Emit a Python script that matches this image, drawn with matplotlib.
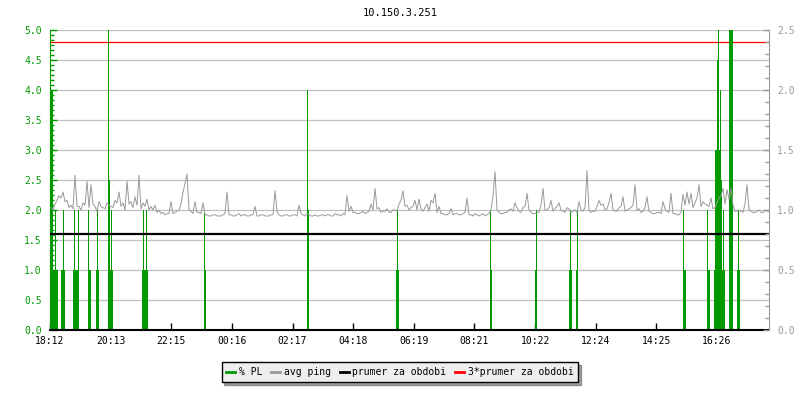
import numpy as np
import matplotlib
matplotlib.use("Agg")
import matplotlib.pyplot as plt
from matplotlib.ticker import MultipleLocator, AutoMinorLocator
from matplotlib.lines import Line2D

# time axis: minutes since 18:12
tick_labels = ["18:12", "20:13", "22:15", "00:16", "02:17", "04:18",
               "06:19", "08:21", "10:22", "12:24", "14:25", "16:26"]
tick_step = 121.27
span = 1438

# avg ping, read every 8 minutes (peaks) ...
ping_step = 8
avg_ping = [
    1.02, 1.05, 1.12, 1.15, 1.08, 1.04, 1.29, 1.03, 1.06, 1.24,
    1.21, 1.03, 1.07, 1.02, 1.06, 1.03, 1.08, 1.15, 1.06, 1.24,
    1.07, 1.11, 1.29, 1.06, 1.09, 1.03, 1.04, 1.00, 0.98, 0.97,
    1.07, 0.98, 1.00, 1.15, 1.30, 0.99, 1.07, 0.98, 1.06, 0.96,
    0.95, 0.96, 0.95, 0.96, 1.15, 0.96, 0.95, 0.97, 0.96, 0.95,
    0.96, 1.03, 0.95, 0.96, 0.95, 0.96, 1.16, 0.96, 0.95, 0.96,
    0.95, 0.96, 1.04, 0.96, 0.97, 0.95, 0.96, 0.95, 0.96, 0.96,
    0.95, 0.97, 0.96, 0.97, 1.12, 1.03, 0.98, 0.97, 0.99, 0.98,
    1.05, 1.18, 1.02, 0.99, 1.01, 0.98, 1.00, 1.05, 1.16, 1.04,
    1.02, 1.08, 1.09, 0.99, 1.05, 1.08, 1.14, 1.03, 0.97, 0.96,
    1.01, 0.97, 0.96, 0.97, 1.10, 0.96, 0.97, 0.95, 0.97, 0.96,
    1.00, 1.32, 0.98, 0.97, 0.98, 1.01, 1.06, 0.99, 1.02, 1.14,
    0.98, 0.97, 0.98, 1.18, 1.00, 1.08, 1.01, 1.06, 0.99, 1.02,
    0.98, 1.00, 1.07, 0.99, 1.33, 0.98, 0.99, 1.08, 1.05, 1.01,
    1.14, 0.99, 1.02, 1.11, 1.00, 1.02, 1.21, 1.01, 0.99, 1.11,
    0.98, 0.97, 0.98, 1.07, 0.99, 1.14, 0.97, 0.96, 1.13, 1.15,
    1.14, 1.06, 1.21, 1.07, 1.04, 1.10, 1.02, 1.10, 1.18, 1.17,
    1.18, 0.99, 1.00, 0.98, 1.21, 0.99, 0.98, 1.00, 0.98, 0.99,
]
# ... and the samples in between (4 minutes later)
avg_ping_mid = [
    1.00, 1.08, 1.10, 1.07, 1.02, 1.01, 1.03, 1.00, 1.04, 1.02,
    1.05, 0.99, 1.03, 1.01, 1.04, 1.02, 1.06, 1.03, 1.00, 1.05,
    1.02, 1.04, 1.01, 1.03, 1.00, 1.00, 0.98, 0.97, 0.96, 0.97,
    0.97, 0.99, 1.05, 1.22, 1.00, 0.97, 0.98, 0.97, 0.96, 0.95,
    0.96, 0.95, 0.95, 0.97, 0.96, 0.95, 0.96, 0.95, 0.96, 0.95,
    0.96, 0.95, 0.96, 0.95, 0.95, 0.96, 0.99, 0.95, 0.96, 0.95,
    0.96, 0.95, 0.97, 0.95, 0.96, 0.95, 0.95, 0.96, 0.95, 0.96,
    0.95, 0.96, 0.95, 0.96, 0.99, 0.98, 0.97, 0.98, 0.97, 0.99,
    1.00, 1.01, 0.98, 0.99, 0.98, 1.00, 0.99, 1.08, 1.03, 1.00,
    1.03, 1.00, 1.01, 1.02, 0.99, 1.06, 0.98, 0.97, 0.96, 0.97,
    0.96, 0.97, 0.96, 0.98, 0.96, 0.95, 0.96, 0.96, 0.95, 0.97,
    1.12, 1.00, 0.97, 0.98, 1.00, 0.99, 1.02, 0.98, 1.03, 1.00,
    0.97, 0.98, 1.04, 1.00, 1.02, 0.99, 1.03, 1.00, 0.98, 1.01,
    0.99, 0.98, 1.00, 1.02, 1.00, 0.99, 1.03, 1.04, 1.00, 1.06,
    1.00, 0.99, 1.03, 0.99, 1.01, 1.04, 1.00, 0.98, 1.02, 0.99,
    0.97, 0.98, 0.97, 1.01, 0.98, 0.97, 0.96, 0.98, 1.04, 1.05,
    1.02, 1.10, 1.03, 1.05, 1.03, 1.01, 1.06, 1.12, 1.05, 1.09,
    1.04, 0.99, 0.99, 1.05, 1.00, 0.98, 0.99, 0.98, 1.00, 0.99,
]

# packet loss samples (minute, % PL)
pl_minutes = [2, 4, 6, 8, 10, 12, 14, 22, 24, 26, 28,
              46, 48, 50, 52, 54, 56, 76, 78, 80, 92, 94, 96,
              116, 118, 120, 122, 124, 184, 186, 188, 190, 192, 194,
              308, 310, 514, 516, 692, 694, 696, 880, 882, 970, 972,
              1038, 1040, 1042, 1052, 1054, 1266, 1268, 1270,
              1314, 1316, 1318, 1328, 1330, 1332, 1334, 1336, 1338,
              1340, 1342, 1344, 1346, 1348, 1358, 1360, 1362, 1364,
              1374, 1376, 1378]
pl_values = [4.0, 4.0, 1.0, 1.0, 2.0, 1.0, 1.0, 1.0, 1.0, 2.0, 1.0,
             1.0, 2.0, 1.0, 1.0, 1.0, 2.0, 2.0, 1.0, 1.0, 1.0, 2.0, 1.0,
             5.0, 2.5, 1.0, 2.0, 1.0, 1.0, 2.0, 1.0, 1.0, 2.0, 1.0,
             2.0, 1.0, 4.0, 2.0, 1.0, 2.0, 1.0, 2.0, 1.0, 1.0, 2.0,
             1.0, 2.0, 1.0, 1.0, 2.0, 2.0, 1.0, 1.0,
             2.0, 1.0, 1.0, 1.0, 3.0, 3.0, 4.5, 5.0, 3.0,
             4.0, 2.5, 1.0, 2.0, 1.0, 5.0, 5.0, 5.0, 5.0,
             1.0, 2.0, 1.0]

prumer = 1.6
prumer3 = 3 * prumer

GREEN = "#009900"
GRAY = "#999999"

plt.rcParams["font.family"] = "DejaVu Sans Mono"
plt.rcParams["font.size"] = 7

fig = plt.figure(figsize=(8, 4), dpi=100)
ax = fig.add_axes([50 / 800, 70 / 400, 719 / 800, 300 / 400])
ax2 = ax.twinx()

ax.vlines(pl_minutes, 0, pl_values, colors=GREEN, lw=0.72,
          antialiased=False, zorder=2)
ax.axhline(prumer, color="black", lw=1.6, zorder=4)
ax.axhline(prumer3, color="red", lw=0.9, zorder=1)

ping_t = np.arange(2 * len(avg_ping)) * (ping_step / 2) + 2
ping_all = np.column_stack([avg_ping, avg_ping_mid]).ravel()
ax2.plot(ping_t, ping_all, color=GRAY, lw=0.7)

ax.set_xlim(0, span)
ax.set_ylim(0, 5.0)
ax2.set_ylim(0, 2.5)

ax.set_xticks(np.arange(len(tick_labels)) * tick_step)
ax.set_xticklabels(tick_labels)
ax.yaxis.set_major_locator(MultipleLocator(0.5))
ax.yaxis.set_minor_locator(AutoMinorLocator(6))
ax.yaxis.set_major_formatter(lambda v, p: f"{v:.1f}")
ax2.yaxis.set_major_locator(MultipleLocator(0.5))
ax2.yaxis.set_minor_locator(AutoMinorLocator(5))
ax2.yaxis.set_major_formatter(lambda v, p: f"{v:.1f}")

ax.grid(axis="y", color="#c0c0c0", lw=0.9)
ax.set_axisbelow(True)

ax.tick_params(axis="x", direction="in", length=5, width=1, color="black",
               pad=4, labelsize=7)
ax.tick_params(axis="y", which="major", direction="in", length=5, width=1,
               color=GREEN, labelcolor=GREEN, pad=6, labelsize=7)
ax.tick_params(axis="y", which="minor", direction="in", length=3, width=1,
               color=GREEN)
ax2.tick_params(axis="y", which="major", direction="in", length=4, width=1,
                color=GRAY, labelcolor=GRAY, pad=6, labelsize=7)
ax2.tick_params(axis="y", which="minor", direction="in", length=3, width=1,
                color=GRAY)

for a in (ax, ax2):
    a.spines["top"].set_visible(False)
ax.spines["right"].set_visible(False)
ax.spines["left"].set_color(GREEN)
ax.spines["bottom"].set_color("black")
ax.spines["bottom"].set_linewidth(1.5)
ax2.spines["left"].set_visible(False)
ax2.spines["bottom"].set_visible(False)
ax2.spines["right"].set_color(GRAY)

fig.text(0.5, 1 - 13 / 400, "10.150.3.251", ha="center", va="center",
         fontsize=7.5)

handles = [Line2D([], [], color=GREEN, lw=2),
           Line2D([], [], color=GRAY, lw=2),
           Line2D([], [], color="black", lw=2),
           Line2D([], [], color="red", lw=2)]
labels = ["% PL", "avg ping", "prumer za obdobi", "3*prumer za obdobi"]
leg = fig.legend(handles, labels, loc="center",
                 bbox_to_anchor=(0.5, 1 - 372 / 400),
                 ncol=4, fontsize=7, handlelength=0.9, handletextpad=0.4,
                 columnspacing=0.9, borderpad=0.5, fancybox=False, shadow=True,
                 facecolor="#eeeeee", edgecolor="black", framealpha=1)
leg.get_frame().set_linewidth(1)

fig.savefig("out.png", dpi=100)
